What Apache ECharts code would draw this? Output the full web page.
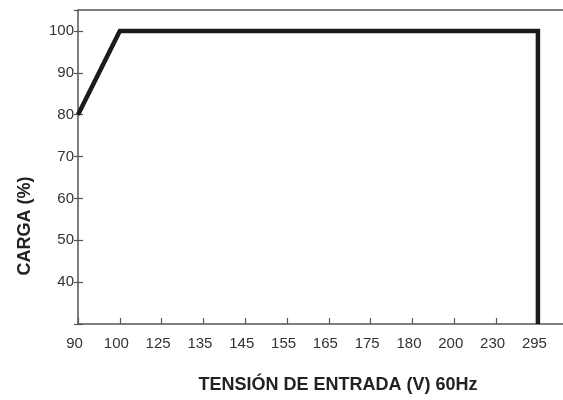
<!DOCTYPE html>
<html>
<head>
<meta charset="utf-8">
<script src="https://cdn.jsdelivr.net/npm/echarts@6/dist/echarts.min.js"></script>
<style>html,body{margin:0;padding:0;background:#fff}#c{width:563px;height:400px}</style>
</head>
<body>
<div id="c"></div>
<script>
const voltageLabels = ['90','100','125','135','145','155','165','175','180','200','230','295'];
const loadTicks = [40,50,60,70,80,90,100];
const curveVoltage = ['90','100','295','295'];
const curveLoad = [80,100,100,30];
const xTitle = 'TENSIÓN DE ENTRADA (V) 60Hz';
const yTitle = 'CARGA (%)';

const FONT = '"Liberation Sans", Arial, sans-serif';
const axisColor = '#555';
const curveData = curveVoltage.map((v, i) => [voltageLabels.indexOf(v), curveLoad[i]]);

const chart = echarts.init(document.getElementById('c'), null, {renderer: 'canvas'});
chart.setOption({
  animation: false,
  backgroundColor: '#fff',
  grid: {left: 78, top: 10, right: 0, bottom: 76, containLabel: false},
  xAxis: [{
    type: 'value', min: 0, max: 11.6, interval: 1, position: 'bottom',
    splitLine: {show: false},
    axisLine: {show: true, lineStyle: {color: axisColor, width: 1.5}},
    axisTick: {show: true, inside: true, length: 6, lineStyle: {color: axisColor, width: 1.2}},
    axisLabel: {
      color: '#333', fontSize: 15, fontFamily: FONT, margin: 12, showMaxLabel: false,
      padding: [0, 7, 0, 0],
      formatter: v => Number.isInteger(v) && voltageLabels[v] !== undefined ? voltageLabels[v] : ''
    }
  }, {
    type: 'value', min: 0, max: 11.6, position: 'top',
    splitLine: {show: false},
    axisLine: {show: true, lineStyle: {color: axisColor, width: 1.5}},
    axisTick: {show: false}, axisLabel: {show: false}
  }],
  yAxis: [{
    type: 'value', min: 30, max: 105, interval: 10, position: 'left',
    splitLine: {show: false},
    axisLine: {show: true, lineStyle: {color: axisColor, width: 1.5}},
    axisTick: {show: true, inside: true, length: 5, lineStyle: {color: axisColor, width: 1.2}},
    axisLabel: {
      color: '#333', fontSize: 15, fontFamily: FONT, margin: 4, showMaxLabel: false,
      formatter: v => loadTicks.includes(v) ? String(v) : ''
    }
  }, {
    type: 'value', min: 30, max: 105, interval: 10, position: 'right',
    splitLine: {show: false},
    axisLine: {show: false},
    axisTick: {show: true, inside: true, length: 4, lineStyle: {color: axisColor, width: 1.2}},
    axisLabel: {show: false}
  }],
  graphic: [{
    type: 'text', x: 338, y: 385,
    style: {text: xTitle, font: 'bold 18px ' + FONT, fill: '#222', align: 'center', verticalAlign: 'middle'}
  }, {
    type: 'text', x: 25, y: 226, rotation: Math.PI / 2,
    style: {text: yTitle, font: 'bold 18px ' + FONT, fill: '#222', align: 'center', verticalAlign: 'middle'}
  }],
  series: [{
    type: 'line', data: curveData, showSymbol: false, symbol: 'none',
    lineStyle: {color: '#1c1c1c', width: 4.5, join: 'miter', cap: 'butt'},
    clip: true
  }]
});
</script>
</body>
</html>
